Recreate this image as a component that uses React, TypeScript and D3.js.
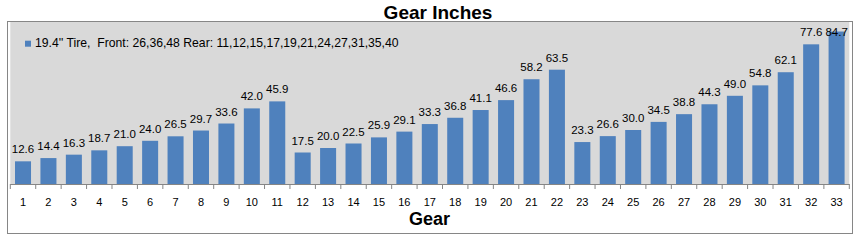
import React from "react";
import * as d3 from "d3";

const gears: string[] = Array.from({ length: 33 }, (_, i) => String(i + 1));
const gearInches: number[] = [
  12.6, 14.4, 16.3, 18.7, 21.0, 24.0, 26.5, 29.7, 33.6, 42.0, 45.9,
  17.5, 20.0, 22.5, 25.9, 29.1, 33.3, 36.8, 41.1, 46.6, 58.2, 63.5,
  23.3, 26.6, 30.0, 34.5, 38.8, 44.3, 49.0, 54.8, 62.1, 77.6, 84.7,
];
const chartTitle = "Gear Inches";
const xTitle = "Gear";
const legendLabel = "19.4'' Tire,  Front: 26,36,48 Rear: 11,12,15,17,19,21,24,27,31,35,40";
const yMax = 90;

const W = 862;
const H = 241;
const FONT = "'Liberation Sans', Arial, sans-serif";

export default function App() {
  const plotLeft = 10.3;
  const plotRight = 849.3;
  const plotTop = 22;
  const baseY = 184;

  const x = d3
    .scaleBand<string>()
    .domain(gears)
    .range([plotLeft, plotRight])
    .paddingInner(0.37)
    .paddingOuter(0.185);
  const y = d3.scaleLinear().domain([0, yMax]).range([baseY, plotTop]);
  const step = x.step();
  const tickXs = d3.range(gears.length + 1).map((i) => plotLeft + i * step);

  return (
    <svg
      width={W}
      height={H}
      style={{ position: "absolute", left: 0, top: 0, background: "#fff" }}
      fontFamily={FONT}
    >
      {/* chart border */}
      <rect x={7.5} y={21.5} width={845} height={212} fill="#fff" stroke="#868686" strokeWidth={1} />
      {/* plot area */}
      <rect x={plotLeft} y={plotTop} width={plotRight - plotLeft} height={baseY - plotTop} fill="#D9D9D9" />

      {/* title */}
      <text x={438} y={18.5} textAnchor="middle" fontSize={19} fontWeight="bold" fill="#000">
        {chartTitle}
      </text>

      {/* bars */}
      {gearInches.map((v, i) => (
        <rect
          key={i}
          x={x(gears[i])!}
          y={y(v)}
          width={x.bandwidth()}
          height={baseY - y(v)}
          fill="#4F81BD"
        />
      ))}

      {/* data labels */}
      {gearInches.map((v, i) => (
        <text
          key={"l" + i}
          x={x(gears[i])! + x.bandwidth() / 2}
          y={Math.max(y(v) - 8, 36)}
          textAnchor="middle"
          fontSize={11.5}
          fill="#000"
        >
          {v.toFixed(1)}
        </text>
      ))}

      {/* x axis */}
      <line x1={plotLeft} x2={plotRight} y1={baseY + 0.5} y2={baseY + 0.5} stroke="#868686" />
      {tickXs.map((tx, i) => (
        <line key={"t" + i} x1={tx} x2={tx} y1={baseY} y2={baseY + 5} stroke="#868686" />
      ))}
      {gears.map((g) => (
        <text
          key={"g" + g}
          x={x(g)! + x.bandwidth() / 2}
          y={206}
          textAnchor="middle"
          fontSize={11}
          fill="#000"
        >
          {g}
        </text>
      ))}
      <text x={429.5} y={225} textAnchor="middle" fontSize={18} fontWeight="bold" fill="#000">
        {xTitle}
      </text>

      {/* legend */}
      <rect x={25} y={40.7} width={6} height={6} fill="#4F81BD" />
      <text x={35} y={47.3} fontSize={12.2} fill="#000" style={{ whiteSpace: "pre" }}>
        {legendLabel}
      </text>
    </svg>
  );
}
